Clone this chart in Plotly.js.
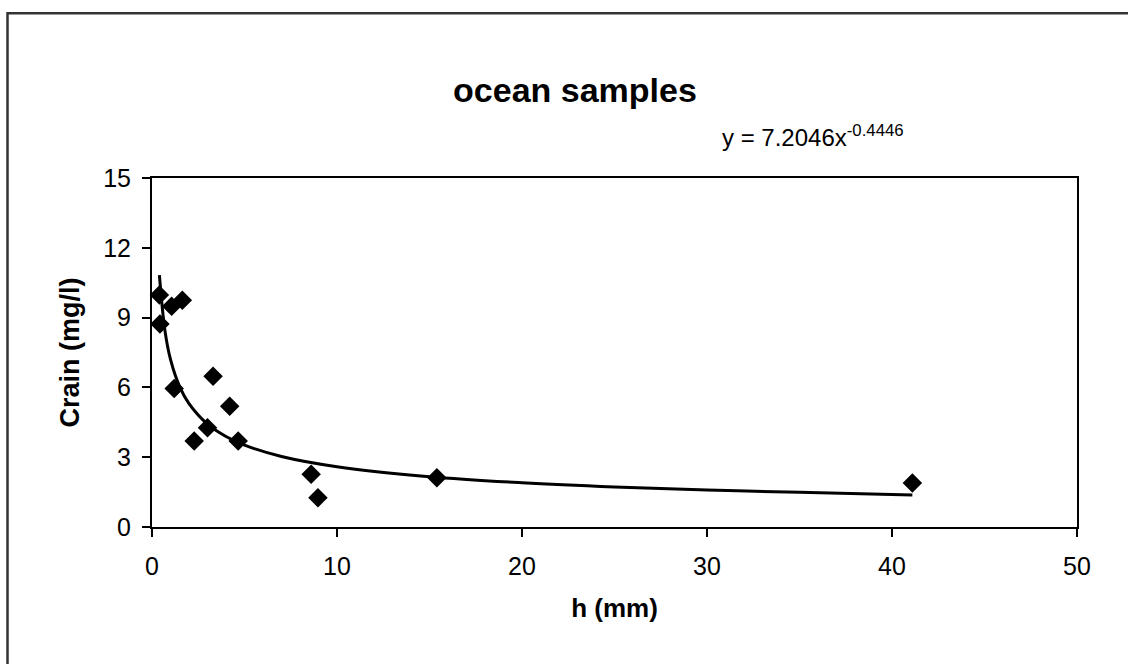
<!DOCTYPE html>
<html>
<head>
<meta charset="utf-8">
<script src="https://cdn.plot.ly/plotly-3.0.1.min.js"></script>
<style>
html,body{margin:0;padding:0;background:#fff;}
#chart{width:1128px;height:664px;}
</style>
</head>
<body>
<div id="chart"></div>
<script>
// Sample points
const hValues = [0.4, 0.43, 1.06, 1.64, 1.2, 3.3, 4.2, 2.28, 3.0, 4.66, 8.6, 8.97, 15.4, 41.1];
const crainValues = [9.97, 8.72, 9.49, 9.75, 5.95, 6.48, 5.19, 3.70, 4.27, 3.70, 2.27, 1.26, 2.12, 1.89];

// Power trend line points (y = 7.2046x^-0.4446)
const trendX = [0.4, 0.7, 1, 1.5, 2, 3, 4, 5, 7, 10, 15, 20, 25, 30, 35, 41.1];
const trendY = [10.83, 8.44, 7.20, 6.02, 5.30, 4.42, 3.89, 3.52, 3.03, 2.59, 2.16, 1.90, 1.72, 1.59, 1.49, 1.38];

const xTicks = [0, 10, 20, 30, 40, 50];
const yTicks = [0, 3, 6, 9, 12, 15];

const chartTitle = 'ocean samples';
const xTitle = 'h (mm)';
const yTitle = 'Crain (mg/l)';
const equationText = 'y = 7.2046x<sup>-0.4446</sup>';

const font = 'Arial, "Liberation Sans", sans-serif';

const traces = [
  {
    x: hValues, y: crainValues, type: 'scatter', mode: 'markers',
    marker: {symbol: 'diamond', size: 15, color: '#000'},
    cliponaxis: false, showlegend: false
  },
  {
    x: trendX, y: trendY, type: 'scatter', mode: 'lines',
    line: {color: '#000', width: 3, shape: 'spline'},
    showlegend: false
  }
];

const layout = {
  width: 1128, height: 664,
  paper_bgcolor: '#fff', plot_bgcolor: '#fff',
  margin: {l: 152, r: 51, t: 178, b: 137},
  font: {family: font, color: '#000'},
  showlegend: false,
  title: {
    text: '<b>' + chartTitle + '</b>',
    font: {size: 34, family: font, color: '#000'},
    xref: 'container', x: 575/1128, xanchor: 'center',
    yref: 'container', y: 1 - 90/664, yanchor: 'middle'
  },
  xaxis: {
    range: [0, 50], tickvals: xTicks, ticktext: xTicks.map(String),
    showline: true, linecolor: '#000', linewidth: 2, mirror: true,
    ticks: 'outside', ticklen: 8, tickwidth: 2, tickcolor: '#000',
    ticklabelstandoff: 8,
    showgrid: false, zeroline: false,
    tickfont: {size: 25, family: font, color: '#000'},
    title: {text: '<b>' + xTitle + '</b>', font: {size: 26, family: font, color: '#000'}, standoff: 20}
  },
  yaxis: {
    range: [0, 15], tickvals: yTicks, ticktext: yTicks.map(String),
    showline: true, linecolor: '#000', linewidth: 2, mirror: true,
    ticks: 'outside', ticklen: 8, tickwidth: 2, tickcolor: '#000',
    ticklabelstandoff: 6,
    showgrid: false, zeroline: false,
    tickfont: {size: 25, family: font, color: '#000'},
    title: {text: '<b>' + yTitle + '</b>', font: {size: 27, family: font, color: '#000'}, standoff: 16}
  },
  annotations: [
    {
      text: equationText, xref: 'paper', yref: 'paper',
      x: (720 - 152) / 925, y: (526.7 - 136) / 348.7,
      xanchor: 'left', yanchor: 'middle', showarrow: false,
      font: {size: 24, family: font, color: '#000'}
    }
  ],
  shapes: [
    {
      type: 'rect', xref: 'paper', yref: 'paper',
      x0: (7.5 - 152) / 925, x1: 1.2,
      y0: -0.6, y1: (526.7 - 13.5) / 348.7,
      line: {color: '#333', width: 2.5}, fillcolor: 'rgba(0,0,0,0)', layer: 'below'
    }
  ]
};

Plotly.newPlot('chart', traces, layout, {staticPlot: true, displayModeBar: false});
</script>
</body>
</html>
